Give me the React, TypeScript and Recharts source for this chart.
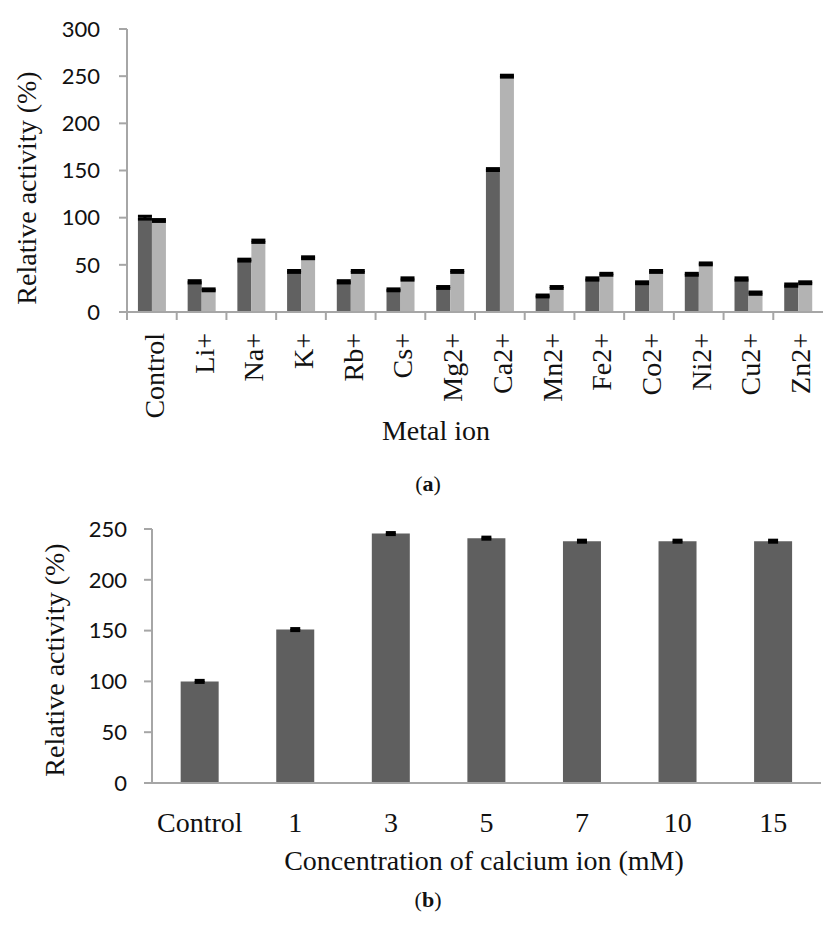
import { BarChart, Bar, XAxis, YAxis, ErrorBar, Label } from 'recharts'

// (a) effect of metal ions, two calcium-free/added conditions
const ions = ['Control', 'Li+', 'Na+', 'K+', 'Rb+', 'Cs+', 'Mg2+', 'Ca2+', 'Mn2+', 'Fe2+', 'Co2+', 'Ni2+', 'Cu2+', 'Zn2+']
const activity1mM = [100, 32, 55, 43, 32, 23.5, 26, 151, 17, 35, 31, 40, 35, 28.5]
const activity5mM = [97, 23.5, 75, 57.5, 43, 35, 43, 250, 26, 40, 43, 51, 20, 31]
const error1mM = [1.5, 1.2, 1, 1, 1.2, 1, 1, 1, 1, 1.2, 1, 1, 1.2, 1.2]
const error5mM = [1, 1, 1.2, 1, 1, 1.2, 1, 1, 1, 1, 1, 1, 1.2, 1]
const ticksA = [0, 50, 100, 150, 200, 250, 300]

// (b) calcium concentration
const calciumLevels = ['Control', '1', '3', '5', '7', '10', '15']
const calciumActivity = [100, 151, 245.5, 241, 238, 238, 238]
const calciumError = [1, 1, 1, 1, 1, 1, 1]
const ticksB = [0, 50, 100, 150, 200, 250]

const SERIF = "'Liberation Serif', 'Times New Roman', serif"
const SANS = "Lato, 'Liberation Sans', sans-serif"
const AXIS = '#a6a6a6'
const DARK = '#616161'
const LIGHT = '#b3b3b3'

const PLOT_W_A = 823 - 127
const BAND_A = PLOT_W_A / ions.length

const ionData = ions.map((ion, i) => ({
    ion,
    a1: activity1mM[i],
    a5: activity5mM[i],
    e1: error1mM[i],
    e5: error5mM[i],
}))

const calciumData = calciumLevels.map((level, i) => ({
    level,
    value: calciumActivity[i],
    err: calciumError[i],
}))

const IonTick = (props: any) => {
    const { x, y, payload } = props
    return (
        <g transform={`translate(${x},${y})`}>
            <line x1={-BAND_A / 2} y1={0} x2={-BAND_A / 2} y2={8} stroke={AXIS} strokeWidth={2} />
            <text
                transform="rotate(-90)"
                x={-21}
                y={12}
                textAnchor="end"
                fontFamily={SERIF}
                fontSize={28}
                fill="#111"
            >
                {payload.value}
            </text>
        </g>
    )
}

const caption = (letter: string, top: number) => (
    <div
        style={{
            position: 'absolute',
            left: 0,
            top,
            width: 856,
            textAlign: 'center',
            fontFamily: SERIF,
            fontSize: 22,
            lineHeight: '24px',
            color: '#111',
        }}
    >
        (<b>{letter}</b>)
    </div>
)

export default function App() {
    return (
        <div style={{ position: 'absolute', left: 0, top: 0, width: 823, height: 947, background: '#fff', overflow: 'hidden' }}>
            <div style={{ position: 'absolute', left: 0, top: 0 }}>
                <BarChart
                    width={823}
                    height={500}
                    data={ionData}
                    margin={{ top: 29, right: 0, bottom: 0, left: 0 }}
                    barCategoryGap="22%"
                    barGap={0}
                >
                    <XAxis
                        dataKey="ion"
                        height={188}
                        interval={0}
                        tickLine={false}
                        tickSize={0}
                        tickMargin={0}
                        axisLine={{ stroke: AXIS, strokeWidth: 2 }}
                        tick={(p: any) => <IonTick {...p} />}
                    >
                        <Label
                            content={() => (
                                <text x={436} y={440} textAnchor="middle" fontFamily={SERIF} fontSize={28} fill="#111">
                                    Metal ion
                                </text>
                            )}
                        />
                    </XAxis>
                    <YAxis
                        width={127}
                        domain={[0, 300]}
                        ticks={ticksA}
                        interval={0}
                        tickSize={8}
                        tickMargin={19}
                        axisLine={{ stroke: AXIS, strokeWidth: 2 }}
                        tickLine={{ stroke: AXIS, strokeWidth: 2 }}
                        tick={{ fontFamily: SANS, fontSize: 22, fill: '#111' }}
                    >
                        <Label
                            content={() => (
                                <text
                                    transform="translate(36,188) rotate(-90)"
                                    textAnchor="middle"
                                    fontFamily={SERIF}
                                    fontSize={28}
                                    fill="#111"
                                >
                                    Relative activity (%)
                                </text>
                            )}
                        />
                    </YAxis>
                    <Bar dataKey="a1" fill={DARK} isAnimationActive={false}>
                        <ErrorBar dataKey="e1" width={7} strokeWidth={3} stroke="#000" direction="y" isAnimationActive={false} />
                    </Bar>
                    <Bar dataKey="a5" fill={LIGHT} isAnimationActive={false}>
                        <ErrorBar dataKey="e5" width={7} strokeWidth={3} stroke="#000" direction="y" isAnimationActive={false} />
                    </Bar>
                </BarChart>
            </div>
            {caption('a', 472)}

            <div style={{ position: 'absolute', left: 0, top: 500 }}>
                <BarChart
                    width={823}
                    height={447}
                    data={calciumData}
                    margin={{ top: 29, right: 2, bottom: 0, left: 0 }}
                    barCategoryGap="30%"
                >
                    <XAxis
                        dataKey="level"
                        height={164}
                        interval={0}
                        tickLine={false}
                        tickSize={0}
                        tickMargin={29}
                        axisLine={{ stroke: AXIS, strokeWidth: 2 }}
                        tick={{ fontFamily: SERIF, fontSize: 28, fill: '#111' }}
                    >
                        <Label
                            content={() => (
                                <text x={484} y={370} textAnchor="middle" fontFamily={SERIF} fontSize={28} fill="#111">
                                    Concentration of calcium ion (mM)
                                </text>
                            )}
                        />
                    </XAxis>
                    <YAxis
                        width={152}
                        domain={[0, 250]}
                        ticks={ticksB}
                        interval={0}
                        tickSize={8}
                        tickMargin={17}
                        axisLine={{ stroke: AXIS, strokeWidth: 2 }}
                        tickLine={{ stroke: AXIS, strokeWidth: 2 }}
                        tick={{ fontFamily: SANS, fontSize: 22, fill: '#111' }}
                    >
                        <Label
                            content={() => (
                                <text
                                    transform="translate(64,160) rotate(-90)"
                                    textAnchor="middle"
                                    fontFamily={SERIF}
                                    fontSize={28}
                                    fill="#111"
                                >
                                    Relative activity (%)
                                </text>
                            )}
                        />
                    </YAxis>
                    <Bar dataKey="value" fill="#5f5f5f" isAnimationActive={false}>
                        <ErrorBar dataKey="err" width={5} strokeWidth={3} stroke="#000" direction="y" isAnimationActive={false} />
                    </Bar>
                </BarChart>
            </div>
            {caption('b', 888)}
        </div>
    )
}
